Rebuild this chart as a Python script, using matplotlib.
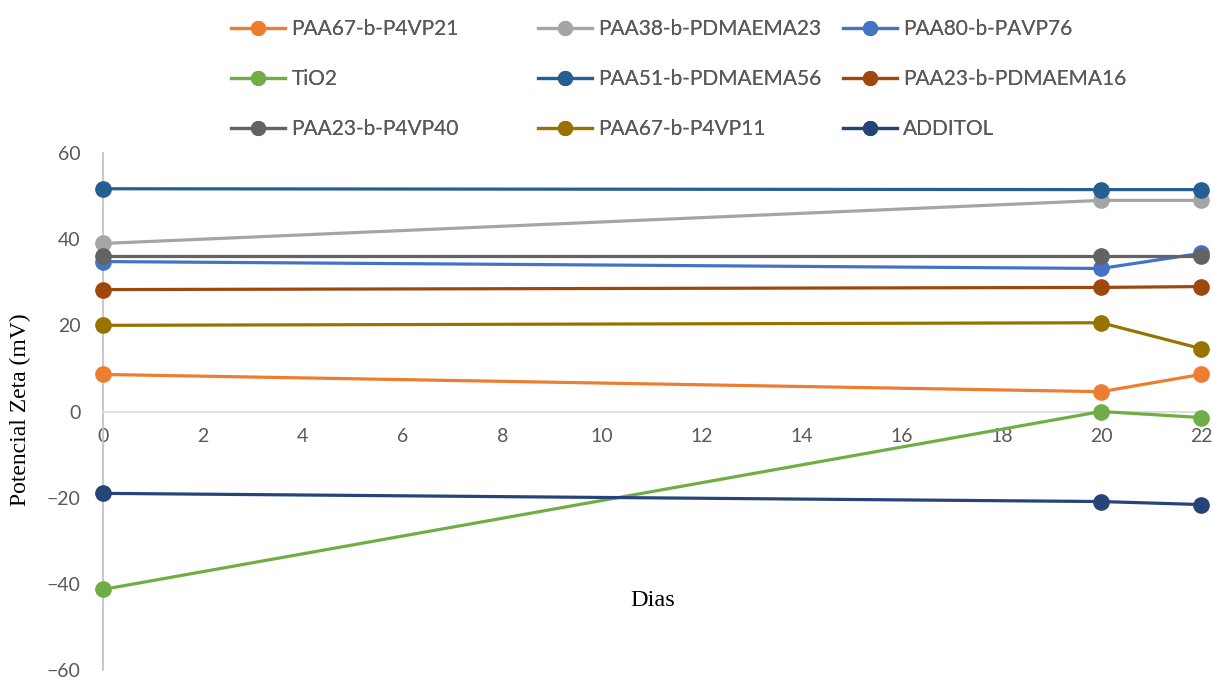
import matplotlib.pyplot as plt

# Potencial zeta medido a lo largo de los días
dias = [0, 20, 22]

paa67_p4vp21 = [8.6, 4.6, 8.6]
paa38_pdmaema23 = [39.0, 49.0, 49.0]
paa80_pavp76 = [34.8, 33.2, 36.7]
tio2 = [-41.3, 0.0, -1.4]
paa51_pdmaema56 = [51.7, 51.5, 51.5]
paa23_pdmaema16 = [28.3, 28.8, 29.0]
paa23_p4vp40 = [36.2, 36.2, 36.2]
paa67_p4vp11 = [20.0, 20.6, 14.6]
additol = [-19.0, -20.9, -21.6]

etiquetas = ['PAA67-b-P4VP21', 'PAA38-b-PDMAEMA23', 'PAA80-b-PAVP76',
             'TiO2', 'PAA51-b-PDMAEMA56', 'PAA23-b-PDMAEMA16',
             'PAA23-b-P4VP40', 'PAA67-b-P4VP11', 'ADDITOL']
series = [paa67_p4vp21, paa38_pdmaema23, paa80_pavp76,
          tio2, paa51_pdmaema56, paa23_pdmaema16,
          paa23_p4vp40, paa67_p4vp11, additol]
colores = ['#ED7D31', '#A5A5A5', '#4472C4',
           '#70AD47', '#255E91', '#9E480E',
           '#636363', '#997300', '#264478']

plt.rcParams['font.family'] = ['Lato', 'DejaVu Sans']

fig = plt.figure(figsize=(12.13, 6.8), dpi=100)
ax = fig.add_axes([103 / 1213, 10 / 680, 1098 / 1213, 517 / 680])

lineas = []
for y, c, lab in zip(series, colores, etiquetas):
    l, = ax.plot(dias, y, color=c, lw=2.3, marker='o', markersize=11,
                 label=lab, clip_on=False, zorder=3)
    lineas.append(l)

ax.set_xlim(0, 22)
ax.set_ylim(-60, 60)
ax.set_xticks(range(0, 23, 2))
ax.set_yticks(range(-60, 61, 20))

for s in ['top', 'right']:
    ax.spines[s].set_visible(False)
ax.spines['bottom'].set_position(('data', 0))
ax.spines['bottom'].set_color('#D9D9D9')
ax.spines['left'].set_color('#BFBFBF')
ax.spines['bottom'].set_linewidth(1.2)
ax.spines['left'].set_linewidth(1.2)
ax.tick_params(axis='both', length=0, labelsize=14, colors='#595959')
ax.tick_params(axis='x', pad=12)
ax.tick_params(axis='y', pad=16)

# Títulos de ejes en fuente serif
fig.text(20 / 1213, 1 - 410 / 680, 'Potencial Zeta (mV)', rotation=90,
         ha='center', va='center', fontsize=17, family='Liberation Serif')
fig.text(653 / 1213, 1 - 600 / 680, 'Dias', ha='center', va='center',
         fontsize=17.5, family='Liberation Serif')

# Leyenda: tres columnas, cada una como leyenda propia
x_columnas = [231, 538, 843]
for j, xc in enumerate(x_columnas):
    idx = [j, j + 3, j + 6]
    leg = fig.legend([lineas[i] for i in idx], [etiquetas[i] for i in idx],
                     loc='upper left', bbox_to_anchor=(xc / 1213, 1 - 19 / 680),
                     frameon=False, fontsize=15, labelcolor='#595959',
                     handlelength=2.6, handletextpad=0.3, borderpad=0,
                     borderaxespad=0, labelspacing=1.45, markerscale=0.9)
    fig.add_artist(leg)

plt.savefig('out.png', dpi=100)
